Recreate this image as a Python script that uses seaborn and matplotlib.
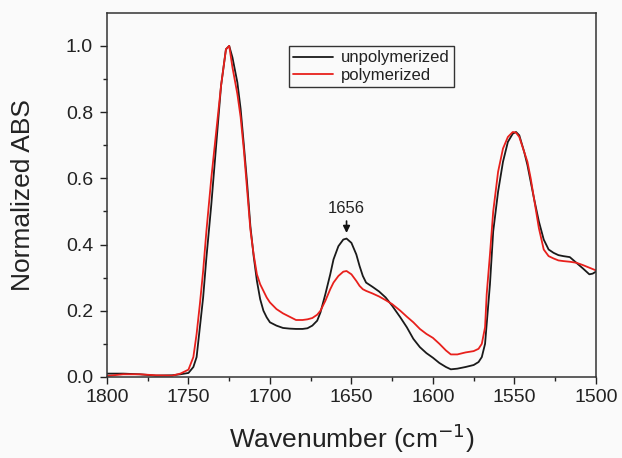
import numpy as np
import pandas as pd
import matplotlib
matplotlib.use("Agg")
import matplotlib.pyplot as plt
import seaborn as sns

# Wavenumber grid (cm-1)
wavenumber = [1800, 1790, 1780, 1770, 1760, 1755, 1750, 1747, 1745, 1743, 1741,
              1739, 1736, 1733, 1730, 1727, 1725, 1723, 1720, 1718, 1716, 1714,
              1712, 1710, 1708, 1706, 1704, 1702, 1700, 1696, 1692, 1688, 1684,
              1680, 1677, 1674, 1671, 1669, 1666, 1663, 1661, 1658, 1655, 1653,
              1650, 1647, 1645, 1643, 1641, 1637, 1633, 1629, 1625, 1620, 1616,
              1612, 1608, 1604, 1600, 1596, 1592, 1589, 1585, 1580, 1575, 1572,
              1570, 1568, 1567, 1565, 1563, 1560, 1557, 1554, 1551, 1549, 1547,
              1544, 1542, 1540, 1538, 1535, 1532, 1529, 1526, 1523, 1520, 1516,
              1512, 1508, 1504, 1502, 1500]

unpolymerized = [0.010, 0.010, 0.008, 0.004, 0.005, 0.008, 0.012, 0.030, 0.060, 0.150, 0.240,
                 0.360, 0.520, 0.700, 0.880, 0.990, 1.000, 0.965, 0.890, 0.810, 0.700, 0.585,
                 0.455, 0.365, 0.290, 0.235, 0.200, 0.180, 0.165, 0.155, 0.148, 0.146, 0.145,
                 0.145, 0.147, 0.155, 0.170, 0.195, 0.250, 0.310, 0.355, 0.395, 0.415, 0.418,
                 0.405, 0.370, 0.335, 0.305, 0.285, 0.272, 0.258, 0.240, 0.215, 0.180, 0.150,
                 0.115, 0.090, 0.072, 0.058, 0.042, 0.030, 0.023, 0.025, 0.030, 0.036, 0.045,
                 0.060, 0.100, 0.160, 0.280, 0.440, 0.560, 0.650, 0.710, 0.735, 0.740, 0.730,
                 0.680, 0.640, 0.590, 0.540, 0.470, 0.415, 0.385, 0.375, 0.368, 0.365, 0.362,
                 0.345, 0.328, 0.310, 0.312, 0.318]

polymerized = [0.003, 0.008, 0.008, 0.005, 0.004, 0.010, 0.022, 0.060, 0.130, 0.220, 0.320,
               0.440, 0.600, 0.740, 0.880, 0.990, 1.000, 0.935, 0.855, 0.785, 0.685, 0.565,
               0.445, 0.370, 0.310, 0.280, 0.260, 0.240, 0.225, 0.205, 0.192, 0.182, 0.172,
               0.172, 0.174, 0.178, 0.188, 0.200, 0.230, 0.265, 0.285, 0.305, 0.318, 0.320,
               0.310, 0.290, 0.275, 0.265, 0.260, 0.252, 0.243, 0.232, 0.220, 0.200, 0.182,
               0.165, 0.145, 0.130, 0.118, 0.100, 0.080, 0.068, 0.068, 0.074, 0.078, 0.085,
               0.100, 0.150, 0.250, 0.370, 0.500, 0.620, 0.690, 0.725, 0.740, 0.738, 0.725,
               0.680, 0.650, 0.600, 0.540, 0.450, 0.385, 0.365, 0.358, 0.352, 0.350, 0.348,
               0.345, 0.338, 0.330, 0.326, 0.322]

df = pd.DataFrame({
    "wavenumber": wavenumber * 2,
    "abs": unpolymerized + polymerized,
    "sample": ["unpolymerized"] * len(wavenumber) + ["polymerized"] * len(wavenumber),
})

sns.set_style("ticks")
plt.rcParams["font.family"] = ["Liberation Sans", "DejaVu Sans"]

fig = plt.figure(figsize=(6.22, 4.58), dpi=100, facecolor="#fafafa")
ax = fig.add_axes([0.172, 0.177, 0.786, 0.795])
ax.set_facecolor("#fafafa")

sns.lineplot(data=df, x="wavenumber", y="abs", hue="sample",
             palette={"unpolymerized": "#1a1a1a", "polymerized": "#e8201c"},
             linewidth=1.3, sort=False, ax=ax)

ax.set_xlim(1800, 1500)
ax.set_ylim(0, 1.1)
ax.set_xticks([1800, 1750, 1700, 1650, 1600, 1550, 1500])
ax.set_xticks(np.arange(1775, 1500, -50), minor=True)
ax.set_yticks([0.0, 0.2, 0.4, 0.6, 0.8, 1.0])
ax.set_yticks([0.1, 0.3, 0.5, 0.7, 0.9], minor=True)
ax.yaxis.set_major_formatter(matplotlib.ticker.FormatStrFormatter("%.1f"))
ax.tick_params(which="major", direction="out", length=5, width=1, labelsize=14, colors="#222222")
ax.tick_params(axis="y", which="major", pad=5)
ax.tick_params(which="minor", direction="out", length=3, width=1, colors="#222222")
for s in ax.spines.values():
    s.set_linewidth(1.1)
    s.set_color("#333333")

ax.set_xlabel("Wavenumber (cm$^{-1}$)", fontsize=19, color="#222222", labelpad=11)
ax.set_ylabel("Normalized ABS", fontsize=19, color="#222222", labelpad=22)

ax.annotate("1656", xy=(1653, 0.435), xytext=(1653, 0.485),
            ha="center", va="bottom", fontsize=12, color="#222222",
            arrowprops=dict(arrowstyle="-|>", color="#111111", lw=1.2,
                            shrinkA=1, shrinkB=0, mutation_scale=10))

leg = ax.legend(loc="upper left", bbox_to_anchor=(0.372, 0.908), fontsize=12,
                frameon=True, fancybox=False, framealpha=1, edgecolor="#333333",
                handlelength=2.4, borderpad=0.25, labelspacing=0.15,
                handletextpad=0.5, borderaxespad=0)
leg.get_frame().set_linewidth(1.0)
leg.get_frame().set_facecolor("#fafafa")
for t in leg.get_texts():
    t.set_color("#222222")

fig.savefig("out.png", dpi=100, facecolor=fig.get_facecolor())
